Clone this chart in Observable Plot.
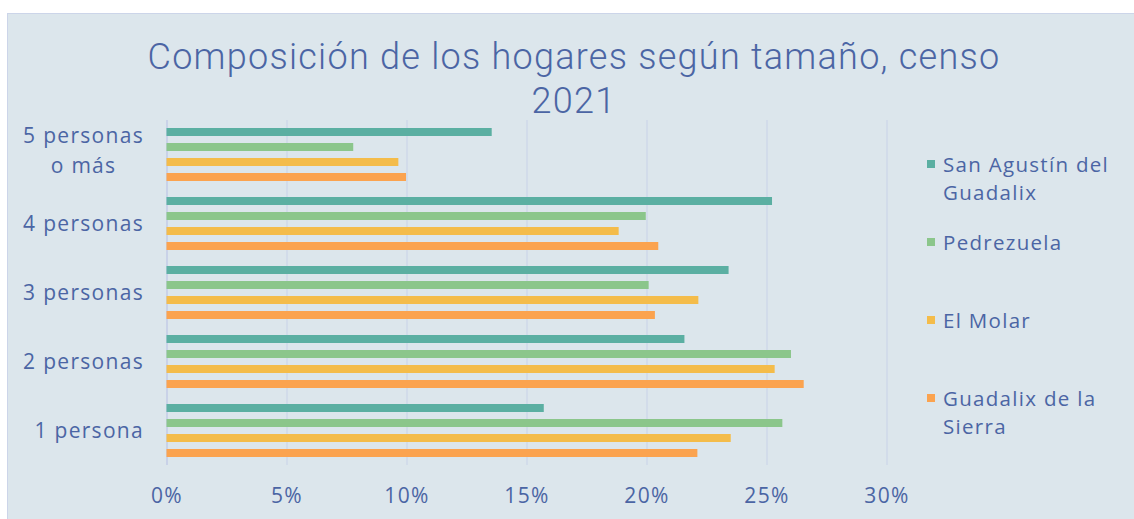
<!DOCTYPE html>
<html>
<head>
<meta charset="utf-8">
<script src="https://cdn.jsdelivr.net/npm/d3@7"></script>
<script src="https://cdn.jsdelivr.net/npm/@observablehq/plot@0.6"></script>
<style>
  html, body { margin: 0; padding: 0; background: #ffffff; }
  #wrap { position: relative; width: 1134px; height: 519px; overflow: hidden; background: #ffffff; font-family: "Open Sans", sans-serif; color: #4b65a4; }
  #panel { position: absolute; left: 7px; top: 13px; width: 1140px; height: 520px; background: #dce6ec; border: 1px solid #ccd5e9; box-sizing: border-box; }
  #title { position: absolute; left: 0; top: 35px; width: 1148px; text-align: center; font-family: Roboto, sans-serif; font-weight: 300; font-size: 36px; line-height: 44px; color: #4b65a4; }
  #title span { display: inline-block; white-space: nowrap; }
  #chart { position: absolute; left: 0; top: 0; }
  #legend { position: absolute; left: 925px; top: 150px; }
  .item { position: relative; height: 78px; }
  .sw { position: absolute; left: 2px; top: 10px; width: 8px; height: 8px; }
  .lab { position: absolute; left: 18px; top: 0; font-size: 20.5px; letter-spacing: 1.3px; line-height: 28px; width: 210px; color: #4b65a4; white-space: pre; }
</style>
</head>
<body>
<div id="wrap">
  <div id="panel"></div>
  <div id="chart"></div>
  <div id="title"><span id="t1">Composición de los hogares según tamaño, censo</span><br><span id="t2">2021</span></div>
  <div id="legend"></div>
</div>
<script>
// Categories (top to bottom) and their tick labels
const categories = ["5 personas o más", "4 personas", "3 personas", "2 personas", "1 persona"];
const tickLabels = ["5 personas\no más", "4 personas", "3 personas", "2 personas", "1 persona"];
// Series (top to bottom within each group)
const series = ["San Agustín del Guadalix", "Pedrezuela", "El Molar", "Guadalix de la Sierra"];
const legendLabels = ["San Agustín del\nGuadalix", "Pedrezuela", "El Molar", "Guadalix de la\nSierra"];
const colors = ["#5bafa2", "#8bc68b", "#f4bc4a", "#fba34f"];
// Percent values per series, ordered as categories
const sanAgustin = [13.55, 25.23, 23.42, 21.58, 15.72];
const pedrezuela = [7.78, 19.97, 20.09, 26.02, 25.66];
const elMolar = [9.66, 18.84, 22.16, 25.34, 23.51];
const guadalixSierra = [9.98, 20.49, 20.35, 26.55, 22.12];
const xTicks = [0, 5, 10, 15, 20, 25, 30];

const valuesBySeries = [sanAgustin, pedrezuela, elMolar, guadalixSierra];
const data = [];
series.forEach((s, i) => categories.forEach((c, j) => data.push({series: s, cat: c, value: valuesBySeries[i][j]})));

const labelOf = new Map(categories.map((c, i) => [c, tickLabels[i]]));
const textColor = "#4b65a4";
const gridColor = "#cfd8ea";

const chart = Plot.plot({
  width: 1134,
  height: 519,
  marginLeft: 166.5,
  marginRight: 247.5,
  marginTop: 118,
  marginBottom: 53,
  style: {background: "transparent", fontFamily: "Open Sans, sans-serif", fontSize: "21px", letterSpacing: "1.3px", color: textColor},
  x: {domain: [0, 30], ticks: xTicks, tickFormat: d => d + "%", tickSize: 0, tickPadding: 23, label: null},
  y: {domain: series, axis: null, paddingInner: 0.4375, paddingOuter: 0.39},
  fy: {domain: categories, padding: 0, label: null, axis: "left", tickSize: 0, tickPadding: 23, tickFormat: d => labelOf.get(d)},
  color: {domain: series, range: colors},
  marks: [
    Plot.ruleX(xTicks.slice(1), {stroke: gridColor, strokeWidth: 1.5}),
    Plot.ruleX([0], {stroke: "#c9d2e8", strokeWidth: 2}),
    Plot.barX(data, {x: "value", y: "series", fy: "cat", fill: "series"})
  ]
});
document.getElementById("chart").appendChild(chart);

// style axis text and center the two-line label like the original
chart.querySelectorAll("text").forEach(t => t.setAttribute("fill", textColor));
chart.querySelectorAll("[aria-label='fy-axis tick label'] text").forEach(t => {
  const tsp = t.querySelectorAll("tspan");
  if (tsp.length > 1) {
    tsp[0].setAttribute("dy", "-0.38em");
    tsp[1].setAttribute("dy", "1.4em");
    const bb = t.getBBox();
    t.setAttribute("text-anchor", "middle");
    const tr = t.getAttribute("transform") || "";
    t.setAttribute("transform", tr + ` translate(${-bb.width / 2},0)`);
  }
});

// fit title first line to the original's width via letter spacing
const t1 = document.getElementById("t1");
const titleEl = document.getElementById("title");
const w = t1.getBoundingClientRect().width;
const n = t1.textContent.length;
titleEl.style.letterSpacing = ((853 - w) / n) + "px";

// Legend
const legend = document.getElementById("legend");
series.forEach((s, i) => {
  const item = document.createElement("div");
  item.className = "item";
  const sw = document.createElement("div");
  sw.className = "sw";
  sw.style.background = colors[i];
  const lab = document.createElement("div");
  lab.className = "lab";
  lab.textContent = legendLabels[i];
  item.appendChild(sw);
  item.appendChild(lab);
  legend.appendChild(item);
});
</script>
</body>
</html>
